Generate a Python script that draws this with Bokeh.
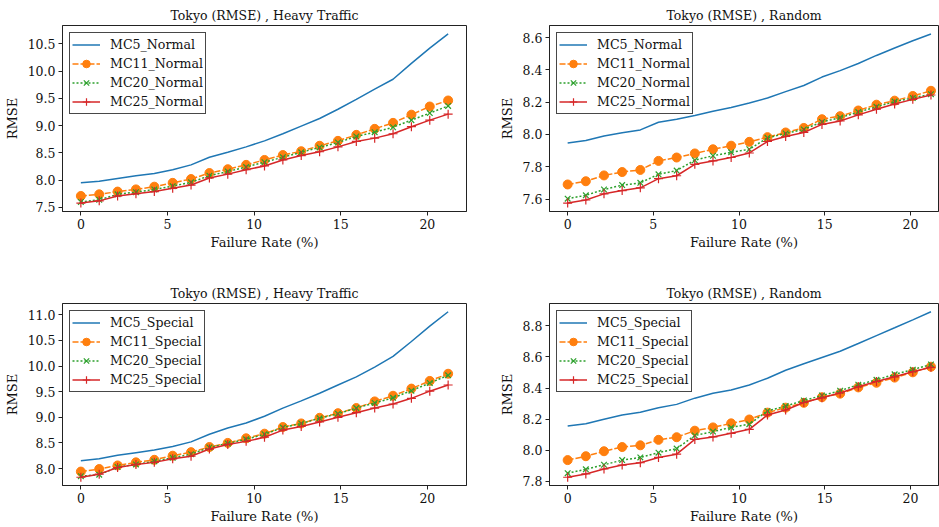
from bokeh.plotting import figure
from bokeh.layouts import column, row
from bokeh.models import Range1d, FixedTicker, NumeralTickFormatter, Legend, LegendItem
from bokeh.embed import file_html
from bokeh.resources import INLINE

# ---------------- data ----------------
failure_rate = [0.0, 1.06, 2.12, 3.18, 4.24, 5.3, 6.36, 7.42, 8.48, 9.54, 10.6,
                11.66, 12.72, 13.78, 14.84, 15.9, 16.96, 18.02, 19.08, 20.14, 21.2]

x_ticks = [0, 5, 10, 15, 20]

titles = ["Tokyo (RMSE) , Heavy Traffic", "Tokyo (RMSE) , Random",
          "Tokyo (RMSE) , Heavy Traffic", "Tokyo (RMSE) , Random"]

names_normal = ["MC5_Normal", "MC11_Normal", "MC20_Normal", "MC25_Normal"]
names_special = ["MC5_Special", "MC11_Special", "MC20_Special", "MC25_Special"]

# top-left: Heavy Traffic, Normal
tl_mc5 = [7.95, 7.98, 8.03, 8.08, 8.12, 8.19, 8.28, 8.42, 8.51, 8.61, 8.72, 8.85, 8.99, 9.13, 9.30, 9.48, 9.67, 9.85, 10.14, 10.42, 10.68]
tl_mc11 = [7.71, 7.74, 7.79, 7.83, 7.88, 7.95, 8.02, 8.13, 8.20, 8.28, 8.37, 8.46, 8.53, 8.63, 8.72, 8.83, 8.94, 9.05, 9.20, 9.35, 9.46]
tl_mc20 = [7.60, 7.64, 7.74, 7.78, 7.83, 7.89, 7.96, 8.08, 8.16, 8.24, 8.33, 8.42, 8.51, 8.60, 8.69, 8.80, 8.88, 8.97, 9.10, 9.23, 9.36]
tl_mc25 = [7.58, 7.62, 7.71, 7.75, 7.79, 7.85, 7.91, 8.04, 8.11, 8.19, 8.26, 8.37, 8.45, 8.52, 8.61, 8.71, 8.77, 8.85, 8.98, 9.10, 9.21]
tl_yticks = [7.5, 8.0, 8.5, 9.0, 9.5, 10.0, 10.5]

# top-right: Random, Normal
tr_mc5 = [7.947, 7.962, 7.99, 8.01, 8.028, 8.075, 8.094, 8.117, 8.144, 8.167, 8.194, 8.225, 8.265, 8.303, 8.355, 8.395, 8.439, 8.489, 8.535, 8.58, 8.622]
tr_mc11 = [7.69, 7.71, 7.746, 7.767, 7.78, 7.836, 7.857, 7.882, 7.908, 7.93, 7.954, 7.983, 8.012, 8.04, 8.094, 8.113, 8.148, 8.184, 8.209, 8.238, 8.27]
tr_mc20 = [7.602, 7.623, 7.659, 7.686, 7.70, 7.753, 7.776, 7.84, 7.868, 7.889, 7.908, 7.979, 8.006, 8.031, 8.077, 8.104, 8.138, 8.171, 8.203, 8.226, 8.249]
tr_mc25 = [7.575, 7.594, 7.632, 7.652, 7.669, 7.726, 7.744, 7.815, 7.836, 7.857, 7.885, 7.956, 7.987, 8.012, 8.062, 8.083, 8.121, 8.156, 8.188, 8.217, 8.244]
tr_yticks = [7.6, 7.8, 8.0, 8.2, 8.4, 8.6]

# bottom-left: Heavy Traffic, Special
bl_mc5 = [8.15, 8.19, 8.26, 8.31, 8.36, 8.43, 8.52, 8.67, 8.79, 8.89, 9.02, 9.18, 9.32, 9.47, 9.63, 9.79, 9.98, 10.19, 10.48, 10.78, 11.06]
bl_mc11 = [7.94, 7.99, 8.06, 8.12, 8.17, 8.25, 8.32, 8.42, 8.50, 8.59, 8.68, 8.81, 8.88, 8.99, 9.08, 9.18, 9.31, 9.42, 9.56, 9.71, 9.85]
bl_mc20 = [7.85, 7.88, 8.03, 8.08, 8.14, 8.21, 8.28, 8.41, 8.49, 8.57, 8.67, 8.80, 8.88, 8.98, 9.07, 9.18, 9.28, 9.38, 9.52, 9.67, 9.82]
bl_mc25 = [7.83, 7.89, 8.02, 8.08, 8.12, 8.19, 8.24, 8.38, 8.47, 8.53, 8.61, 8.75, 8.82, 8.91, 9.00, 9.09, 9.18, 9.26, 9.37, 9.51, 9.63]
bl_yticks = [8.0, 8.5, 9.0, 9.5, 10.0, 10.5, 11.0]

# bottom-right: Random, Special
br_mc5 = [8.156, 8.17, 8.20, 8.227, 8.244, 8.274, 8.295, 8.335, 8.366, 8.387, 8.42, 8.463, 8.514, 8.556, 8.596, 8.636, 8.686, 8.737, 8.787, 8.838, 8.89]
br_mc11 = [7.937, 7.962, 7.994, 8.021, 8.032, 8.067, 8.084, 8.126, 8.147, 8.173, 8.198, 8.242, 8.274, 8.305, 8.341, 8.364, 8.404, 8.434, 8.467, 8.501, 8.537]
br_mc20 = [7.853, 7.878, 7.907, 7.937, 7.954, 7.985, 8.011, 8.095, 8.12, 8.147, 8.168, 8.253, 8.284, 8.32, 8.352, 8.383, 8.421, 8.453, 8.488, 8.518, 8.552]
br_mc25 = [7.827, 7.848, 7.88, 7.905, 7.92, 7.954, 7.975, 8.07, 8.086, 8.109, 8.135, 8.227, 8.259, 8.307, 8.337, 8.368, 8.408, 8.442, 8.472, 8.505, 8.533]
br_yticks = [7.8, 8.0, 8.2, 8.4, 8.6, 8.8]

# ---------------- style ----------------
C_BLUE, C_ORANGE, C_GREEN, C_RED = "#1f77b4", "#ff7f0e", "#2ca02c", "#d62728"
FONT = "DejaVu Serif"
TXT = "#111111"


def make_panel(title, series, names, yticks, x_end, width, height,
               b_left, b_right, b_top, b_bottom):
    allv = [v for s in series for v in s]
    lo, hi = min(allv), max(allv)
    pad = 0.05 * (hi - lo)
    x_lo = -0.05 * (failure_rate[-1] - failure_rate[0])
    p = figure(width=width, height=height, output_backend="svg", toolbar_location=None,
               x_range=Range1d(x_lo, x_end), y_range=Range1d(lo - pad, hi + pad),
               min_border_left=b_left, min_border_right=b_right,
               min_border_top=b_top, min_border_bottom=b_bottom,
               title=title)
    p.title.align = "center"
    p.title.text_font = FONT
    p.title.text_font_size = "12.5px"
    p.title.text_font_style = "normal"
    p.title.text_color = TXT
    p.title.standoff = 6
    p.title.offset = 0

    p.grid.visible = False
    p.outline_line_color = "#222222"
    p.outline_line_alpha = 1.0
    p.background_fill_color = "white"
    p.border_fill_color = "white"

    for ax in (p.xaxis[0], p.yaxis[0]):
        ax.axis_line_color = "#222222"
        ax.major_tick_line_color = "#222222"
        ax.major_tick_out = 4
        ax.major_tick_in = 0
        ax.minor_tick_line_color = None
        ax.major_label_text_font = FONT
        ax.major_label_text_font_size = "12.5px"
        ax.major_label_text_color = TXT
        ax.axis_label_text_font = FONT
        ax.axis_label_text_font_size = "13px"
        ax.axis_label_text_font_style = "normal"
        ax.axis_label_text_color = TXT

    p.xaxis.axis_label = "Failure Rate (%)"
    p.xaxis.ticker = FixedTicker(ticks=x_ticks)
    p.xaxis.major_label_standoff = 3
    p.xaxis.axis_label_standoff = 3
    p.yaxis.axis_label = "RMSE"
    p.yaxis.ticker = FixedTicker(ticks=yticks)
    p.yaxis.formatter = NumeralTickFormatter(format="0.0")
    p.yaxis.major_label_standoff = 3
    p.yaxis.axis_label_standoff = 5

    s5, s11, s20, s25 = series
    r5 = p.line(failure_rate, s5, line_color=C_BLUE, line_width=1.5)
    r11 = p.line(failure_rate, s11, line_color=C_ORANGE, line_width=1.5, line_dash="6 2")
    m11 = p.scatter(failure_rate, s11, marker="circle", size=9,
                    fill_color=C_ORANGE, line_color=C_ORANGE)
    r20 = p.line(failure_rate, s20, line_color=C_GREEN, line_width=1.5, line_dash="2 2")
    m20 = p.scatter(failure_rate, s20, marker="x", size=8,
                    line_color=C_GREEN, line_width=1.2)
    r25 = p.line(failure_rate, s25, line_color=C_RED, line_width=1.5)
    m25 = p.scatter(failure_rate, s25, marker="cross", size=9,
                    line_color=C_RED, line_width=1.2)

    legend = Legend(items=[
        LegendItem(label=names[0], renderers=[r5]),
        LegendItem(label=names[1], renderers=[r11, m11]),
        LegendItem(label=names[2], renderers=[r20, m20]),
        LegendItem(label=names[3], renderers=[r25, m25]),
    ], location="top_left")
    legend.margin = 7
    legend.padding = 2
    legend.spacing = 0
    legend.glyph_width = 28
    legend.glyph_height = 19
    legend.label_height = 19
    legend.label_standoff = 10
    legend.label_text_font = FONT
    legend.label_text_font_size = "12.6px"
    legend.label_text_color = TXT
    legend.border_line_color = "#333333"
    legend.border_line_width = 1
    legend.border_line_alpha = 0.9
    legend.background_fill_color = "white"
    legend.background_fill_alpha = 0.85
    p.add_layout(legend)
    return p


# page origin is (0, 0); left frames start at x=62, right frames at x=546
LW, RW = 496, 443
TH, BH = 279, 247

p1 = make_panel(titles[0], [tl_mc5, tl_mc11, tl_mc20, tl_mc25], names_normal, tl_yticks,
                22.26, LW, TH, 62, 30, 25, 68)
p2 = make_panel(titles[1], [tr_mc5, tr_mc11, tr_mc20, tr_mc25], names_normal, tr_yticks,
                21.64, RW, TH, 50, 1, 25, 68)
p3 = make_panel(titles[2], [bl_mc5, bl_mc11, bl_mc20, bl_mc25], names_special, bl_yticks,
                22.26, LW, BH, 62, 30, 24, 40)
p4 = make_panel(titles[3], [br_mc5, br_mc11, br_mc20, br_mc25], names_special, br_yticks,
                21.64, RW, BH, 50, 1, 24, 40)

layout = column(row(p1, p2), row(p3, p4))

open("out.html", "w").write(file_html(layout, INLINE))
